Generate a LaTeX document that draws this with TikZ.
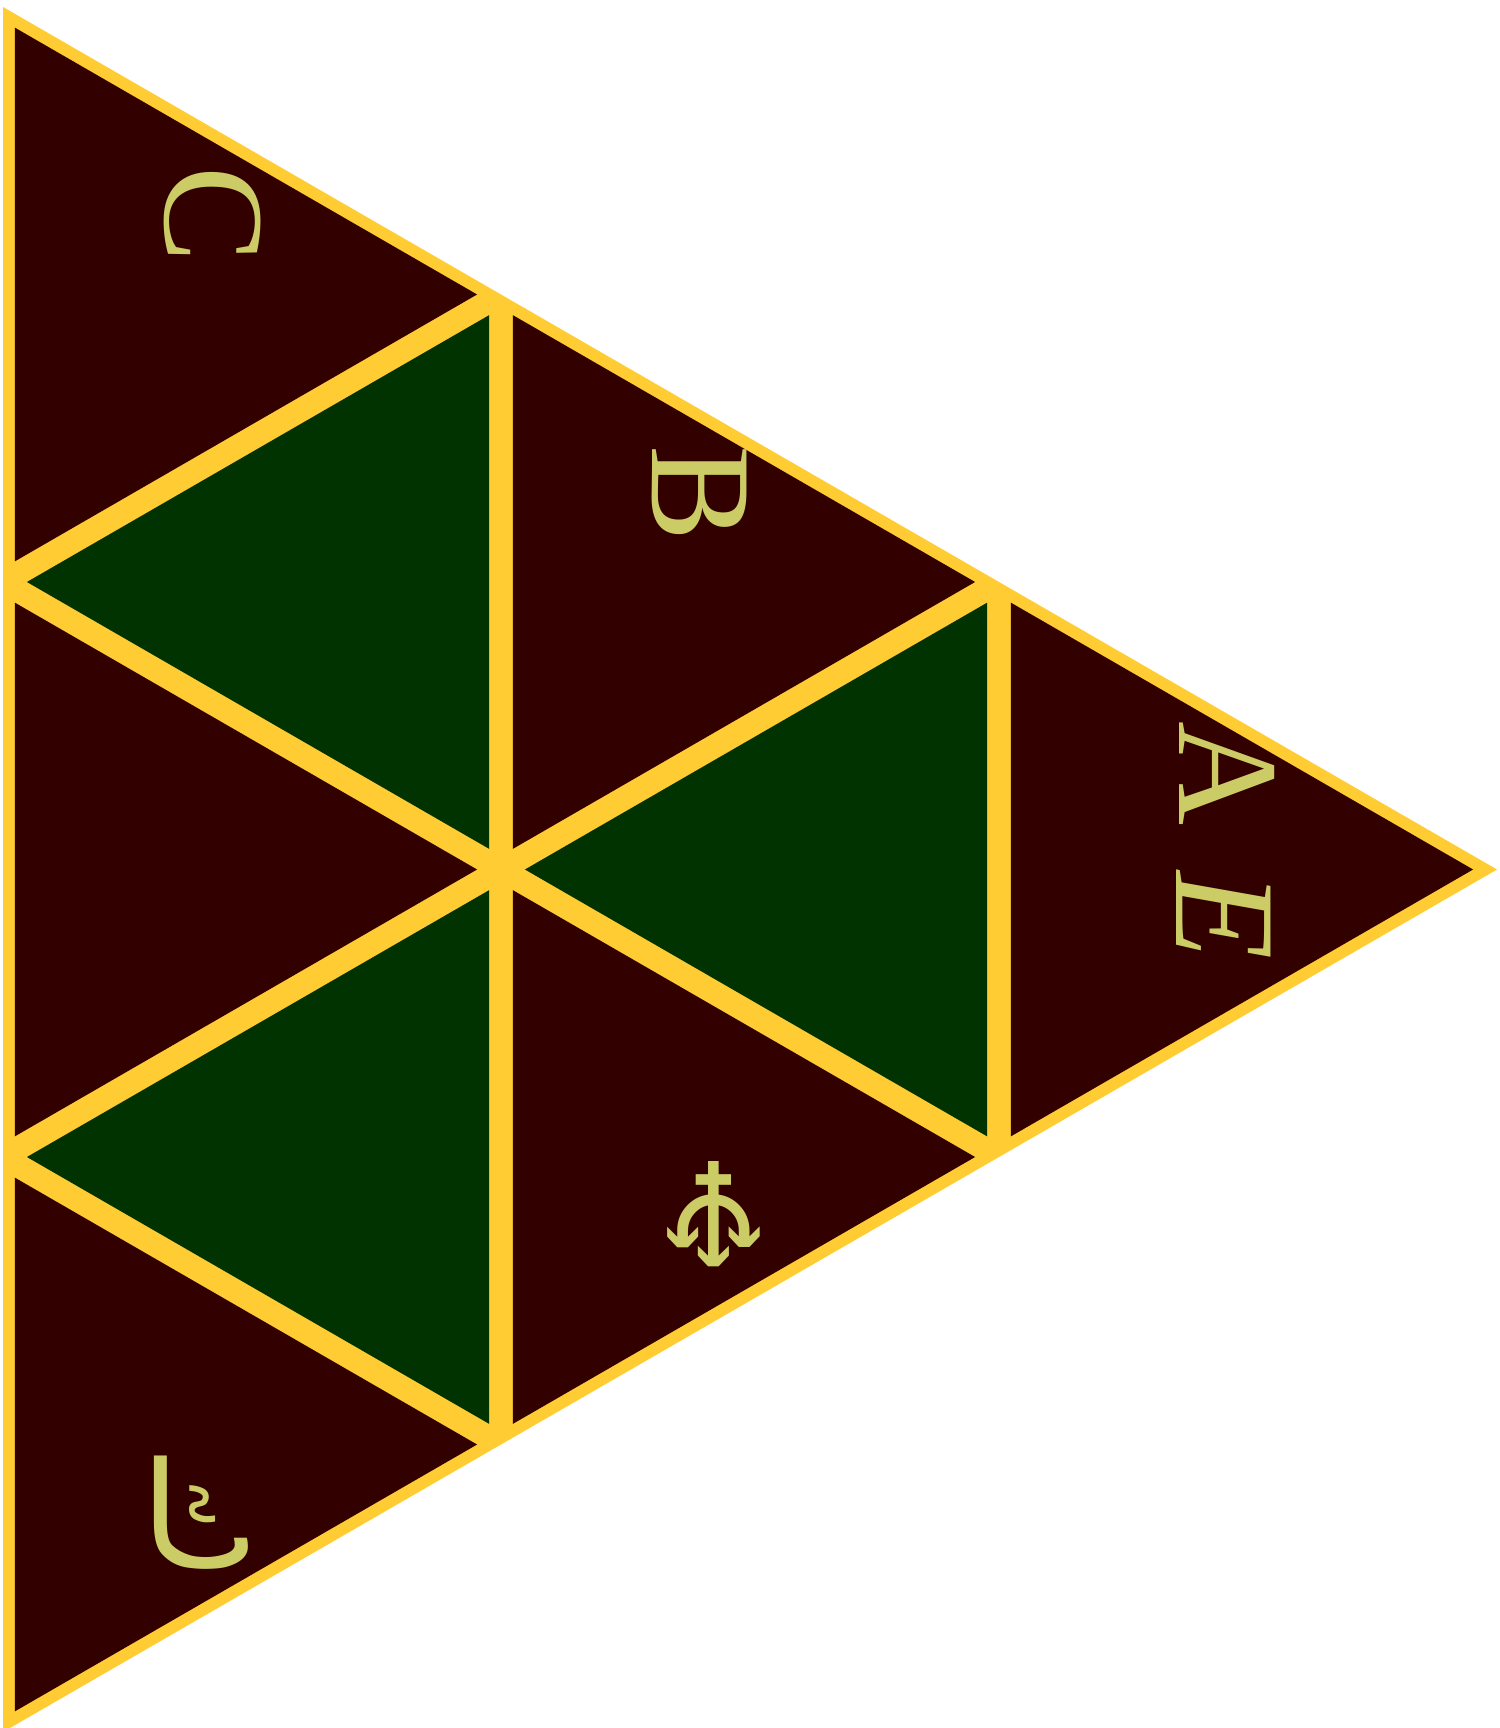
\documentclass[tikz,border=0pt]{standalone}
\usepackage{fontspec}
\usepackage{xcolor}
\usepackage{tikz}
\usetikzlibrary{calc}
\setmainfont{Liberation Serif}
\newfontfamily\symfont{DejaVu Sans}
\newfontfamily\arabicfont[Script=Arabic]{DejaVu Sans}
\TeXXeTstate=1
\definecolor{tridark}{RGB}{51,0,0}
\definecolor{trigreen}{RGB}{0,51,0}
\definecolor{trigold}{RGB}{255,204,51}
\definecolor{trilabel}{RGB}{204,204,102}

\begin{document}
\begin{tikzpicture}[x=0.01cm,y=-0.01cm,
    lbl/.style={text=trilabel,inner sep=0pt,font=\fontsize{41}{48}\selectfont}]
  \useasboundingbox (0,0) rectangle (1499,1728);
  % corners of the nine small triangles
  \coordinate (a0) at (3,7);
  \coordinate (a1) at (3,582);
  \coordinate (a2) at (3,1157);
  \coordinate (a3) at (3,1732);
  \coordinate (b0) at (501,294.5);
  \coordinate (b1) at (501,869.5);
  \coordinate (b2) at (501,1444.5);
  \coordinate (c0) at (999,582);
  \coordinate (c1) at (999,1157);
  \coordinate (d0) at (1497,869.5);
  \fill[trigold] (a0) -- (a3) -- (d0) -- cycle;
  % each small triangle shrunk about its centre, leaving a gold rim
  \foreach \p/\q/\r/\col in {a0/a1/b0/tridark, a1/a2/b1/tridark, a2/a3/b2/tridark,
                             b0/b1/c0/tridark, b1/b2/c1/tridark, c0/c1/d0/tridark,
                             a1/b0/b1/trigreen, a2/b1/b2/trigreen, b1/c0/c1/trigreen} {
    \coordinate (m) at ($1/3*(\p)+1/3*(\q)+1/3*(\r)$);
    \fill[\col] ($(m)!0.928!(\p)$) -- ($(m)!0.928!(\q)$) -- ($(m)!0.928!(\r)$) -- cycle;
  }
  \node[lbl,rotate=-90] (labC) at (213,215) {C};
  \node[lbl,rotate=-90] (labB) at (699,494) {B};
  \node[lbl,rotate=-90] (labA) at (1227,774) {A};
  \node[lbl,rotate=-90] (labE) at (1224,916) {\itshape E};
  \node[lbl,rotate=180] (labN) at (714,1214) {\symfont ♆};
  \node[lbl,xscale=-1] (labK) at (199,1513) {\arabicfont\beginR ك\endR};
\end{tikzpicture}
\end{document}
